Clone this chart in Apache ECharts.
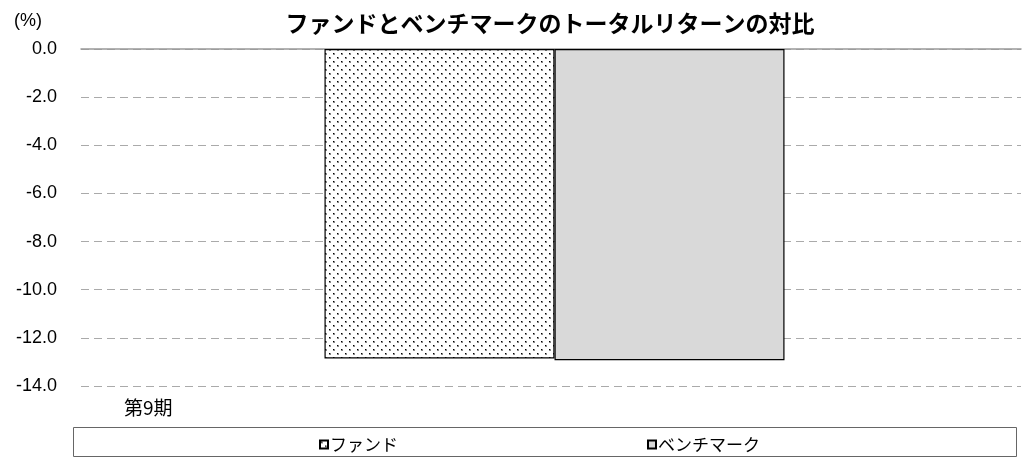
<!DOCTYPE html>
<html><head><meta charset="utf-8">
<script src="https://cdn.jsdelivr.net/npm/echarts@6/dist/echarts.min.js"></script>
<style>html,body{margin:0;padding:0;background:#fff}#c{width:1022px;height:458px}</style>
</head><body><div id="c"></div>
<script>
const titleText = 'ファンドとベンチマークのトータルリターンの対比';
const categories = ['第9期'];
const seriesNames = ['ファンド', 'ベンチマーク'];
const fundValues = [-12.86];
const benchmarkValues = [-12.93];
const yTicks = { min: -14, max: 0, interval: 2 };
const unitLabel = '(%)';

function makeDots() {
  const c = document.createElement('canvas');
  c.width = 8; c.height = 8;
  const g = c.getContext('2d');
  g.fillStyle = '#fff'; g.fillRect(0, 0, 8, 8);
  g.fillStyle = '#888';
  g.fillRect(1, 1, 2, 2);
  g.fillRect(5, 5, 2, 2);
  g.fillStyle = '#000';
  g.fillRect(1, 1, 1, 1);
  g.fillRect(5, 5, 1, 1);
  return c;
}
const dotPattern = { image: makeDots(), repeat: 'repeat' };

const chart = echarts.init(document.getElementById('c'), null, { renderer: 'canvas' });
const jp = '"Noto Sans CJK JP", sans-serif';
const lat = '"Liberation Sans", Arial, sans-serif';
chart.setOption({
  animation: false,
  backgroundColor: '#fff',
  title: {
    text: titleText, left: 545, textAlign: 'center', top: 7,
    textStyle: { fontFamily: jp, fontSize: 23, fontWeight: 'bold', color: '#000' }
  },
  grid: [
    { left: 81, right: 1, top: 49, bottom: 72 },
    { left: 87, right: -5, top: 49, bottom: 72 }
  ],
  legend: {
    show: true, left: 314, top: 431, itemGap: 249, itemWidth: 8, itemHeight: 8,
    icon: 'rect',
    textStyle: { fontFamily: jp, fontSize: 17, color: '#000', padding: [0, 0, 0, -3] },
    data: seriesNames
  },
  xAxis: [
    {
      type: 'category', data: categories, position: 'top', gridIndex: 0,
      axisLine: { show: true, lineStyle: { color: '#999', width: 1.5 } },
      axisTick: { show: false }, axisLabel: { show: false }, splitLine: { show: false }
    },
    {
      type: 'category', data: categories, position: 'top', gridIndex: 1,
      axisLine: { show: false }, axisTick: { show: false }, axisLabel: { show: false }, splitLine: { show: false }
    }
  ],
  yAxis: [
    {
      type: 'value', min: yTicks.min, max: yTicks.max, interval: yTicks.interval, gridIndex: 0,
      axisLine: { show: false }, axisTick: { show: false },
      axisLabel: {
        formatter: v => v.toFixed(1), fontFamily: lat,
        fontSize: 18, color: '#000', margin: 24
      },
      splitLine: { show: true, lineStyle: { color: '#aaa', type: [8, 5], width: 1.2 } }
    },
    {
      type: 'value', min: yTicks.min, max: yTicks.max, interval: yTicks.interval, gridIndex: 1,
      axisLine: { show: false }, axisTick: { show: false }, axisLabel: { show: false }, splitLine: { show: false }
    }
  ],
  series: [
    {
      name: seriesNames[0], type: 'bar', data: fundValues, xAxisIndex: 1, yAxisIndex: 1,
      barGap: '0%', barCategoryGap: '50.8%',
      itemStyle: { color: dotPattern, borderColor: '#000', borderWidth: 1.2 }
    },
    {
      name: seriesNames[1], type: 'bar', data: benchmarkValues, xAxisIndex: 1, yAxisIndex: 1,
      itemStyle: { color: '#d9d9d9', borderColor: '#000', borderWidth: 1.2 }
    }
  ],
  graphic: [
    { type: 'text', left: 14, top: 12, style: { text: unitLabel, font: '18px "Liberation Sans", Arial, sans-serif', fill: '#000' } },
    { type: 'text', left: 124, top: 398, style: { text: categories[0], font: '19px "Noto Sans CJK JP", sans-serif', fill: '#000' } },
    { type: 'rect', shape: { x: 73.5, y: 427.5, width: 943, height: 29 }, style: { fill: 'none', stroke: '#666', lineWidth: 1 }, z: -1 }
  ]
});
</script></body></html>
